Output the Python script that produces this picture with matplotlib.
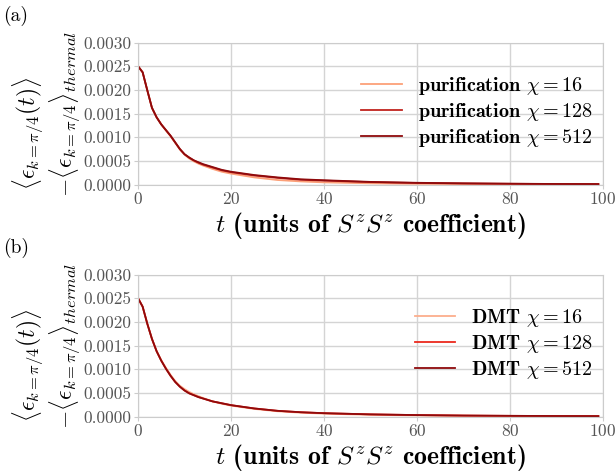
import numpy as np
import matplotlib
matplotlib.use("Agg")
import matplotlib.pyplot as plt

plt.rcParams['font.family'] = ['cmr10', 'DejaVu Serif']
plt.rcParams['mathtext.fontset'] = 'cm'
plt.rcParams['axes.formatter.use_mathtext'] = True

# time points (units of SzSz coefficient)
t = [0, 1, 2, 3, 4, 5, 6, 7, 8, 9, 10, 11, 12, 13, 14, 16, 18, 20, 25, 30, 35, 40, 50, 60, 70, 80, 90, 99]

# (a) purification
pur_16 = [0.0025, 0.00237, 0.00199, 0.00162, 0.00142, 0.00127, 0.00114, 0.00102, 0.00088, 0.00074, 0.00063, 0.00055,
          0.00049, 0.00044, 0.00040, 0.00033, 0.00027, 0.00023, 0.00015, 0.000095, 0.000065, 0.000045,
          0.000025, 0.000015, 0.00001, 0.000007, 0.000005, 0.000004]
pur_128 = [0.0025, 0.00237, 0.00199, 0.00162, 0.00142, 0.00127, 0.00115, 0.00103, 0.00089, 0.00075, 0.00064, 0.00057,
           0.00051, 0.00046, 0.00042, 0.00036, 0.00030, 0.00026, 0.00019, 0.00014, 0.00010, 0.000082,
           0.00005, 0.000032, 0.000022, 0.000015, 0.00001, 0.000008]
pur_512 = [0.0025, 0.00237, 0.00199, 0.00162, 0.00142, 0.00127, 0.00115, 0.00103, 0.00089, 0.00075, 0.00064, 0.00057,
           0.00051, 0.00047, 0.00043, 0.00037, 0.00031, 0.00027, 0.00020, 0.00015, 0.00011, 0.00009,
           0.000055, 0.000036, 0.000025, 0.000017, 0.000011, 0.000009]

# (b) DMT
dmt_16 = [0.0025, 0.00232, 0.00196, 0.00164, 0.00138, 0.00119, 0.00103, 0.00088, 0.00075, 0.00065, 0.00058, 0.00052,
          0.00047, 0.00043, 0.00039, 0.00032, 0.00027, 0.00023, 0.00016, 0.00011, 0.00008, 0.00006,
          0.000035, 0.000022, 0.000015, 0.00001, 0.000007, 0.000005]
dmt_128 = [0.0025, 0.00232, 0.00196, 0.00164, 0.00138, 0.00118, 0.00101, 0.00086, 0.00073, 0.00063, 0.00055, 0.00049,
           0.00045, 0.00041, 0.00038, 0.00032, 0.00028, 0.00024, 0.00017, 0.00012, 0.00009, 0.00007,
           0.000045, 0.00003, 0.00002, 0.000014, 0.00001, 0.000008]
dmt_512 = [0.0025, 0.00232, 0.00196, 0.00164, 0.00138, 0.00118, 0.00101, 0.00086, 0.00073, 0.00063, 0.00055, 0.00049,
           0.00045, 0.00041, 0.00038, 0.00032, 0.00028, 0.00024, 0.00017, 0.00012, 0.00009, 0.00007,
           0.000045, 0.00003, 0.00002, 0.000014, 0.00001, 0.000008]

chis = [16, 128, 512]

ylab1 = r"$\langle \epsilon_{k=\pi/4}(t)\rangle$"
ylab2 = r"$-\langle \epsilon_{k=\pi/4}\rangle_{thermal}$"
xlab = r"$t$ (units of $S^zS^z$ coefficient)"

W, H = 616, 475
fig = plt.figure(figsize=(6.16, 4.75), dpi=100)
ax_a = fig.add_axes([138/W, 1 - 184.5/H, 465/W, 142/H])
ax_b = fig.add_axes([138/W, 1 - 416.5/H, 465/W, 142/H])

panels = [
    (ax_a, [pur_16, pur_128, pur_512], "purification", ['#fca078', '#c0231e', '#8e0a0c'], "(a)", 0),
    (ax_b, [dmt_16, dmt_128, dmt_512], "DMT", ['#fcae8c', '#ec2a1e', '#8e0a0c'], "(b)", 232),
]

for ax, series, name, colors, tag, dy in panels:
    for y, chi, c in zip(series, chis, colors):
        ax.plot(t, y, color=c, lw=1.3, label=r"%s $\chi=%d$" % (name, chi))
    ax.set_xlim(0, 100)
    ax.set_ylim(0, 0.003)
    ax.set_xticks([0, 20, 40, 60, 80, 100])
    ax.set_yticks(np.arange(0, 0.0031, 0.0005))
    ax.yaxis.set_major_formatter(matplotlib.ticker.FormatStrFormatter('%.4f'))
    ax.grid(True, color='#d4d4d4', lw=1)
    ax.set_axisbelow(True)
    for s in ax.spines.values():
        s.set_color('#cccccc')
    ax.tick_params(colors='#cccccc', labelcolor='#555555', labelsize=12.5, length=3, pad=2)
    # two-line y label, placed line by line
    fig.text(46/W, 1 - (133 + dy)/H, ylab1, rotation=90, fontsize=17, ha='right', va='center')
    fig.text(47/W, 1 - (113.5 + dy)/H, ylab2, rotation=90, fontsize=17, ha='left', va='center')
    ax.set_xlabel(xlab, fontsize=18.5, family='cmb10', labelpad=2)
    leg = ax.legend(loc='upper right', frameon=False, prop={'family': 'cmb10', 'size': 14.5},
                    handlelength=2.0, handletextpad=0.8, labelspacing=0.2,
                    bbox_to_anchor=(1.0, 0.84), borderaxespad=0.1)
    fig.text(0.005, ax.get_position().y1 + 0.045, tag, fontsize=14)

fig.savefig("out.png", dpi=100)
